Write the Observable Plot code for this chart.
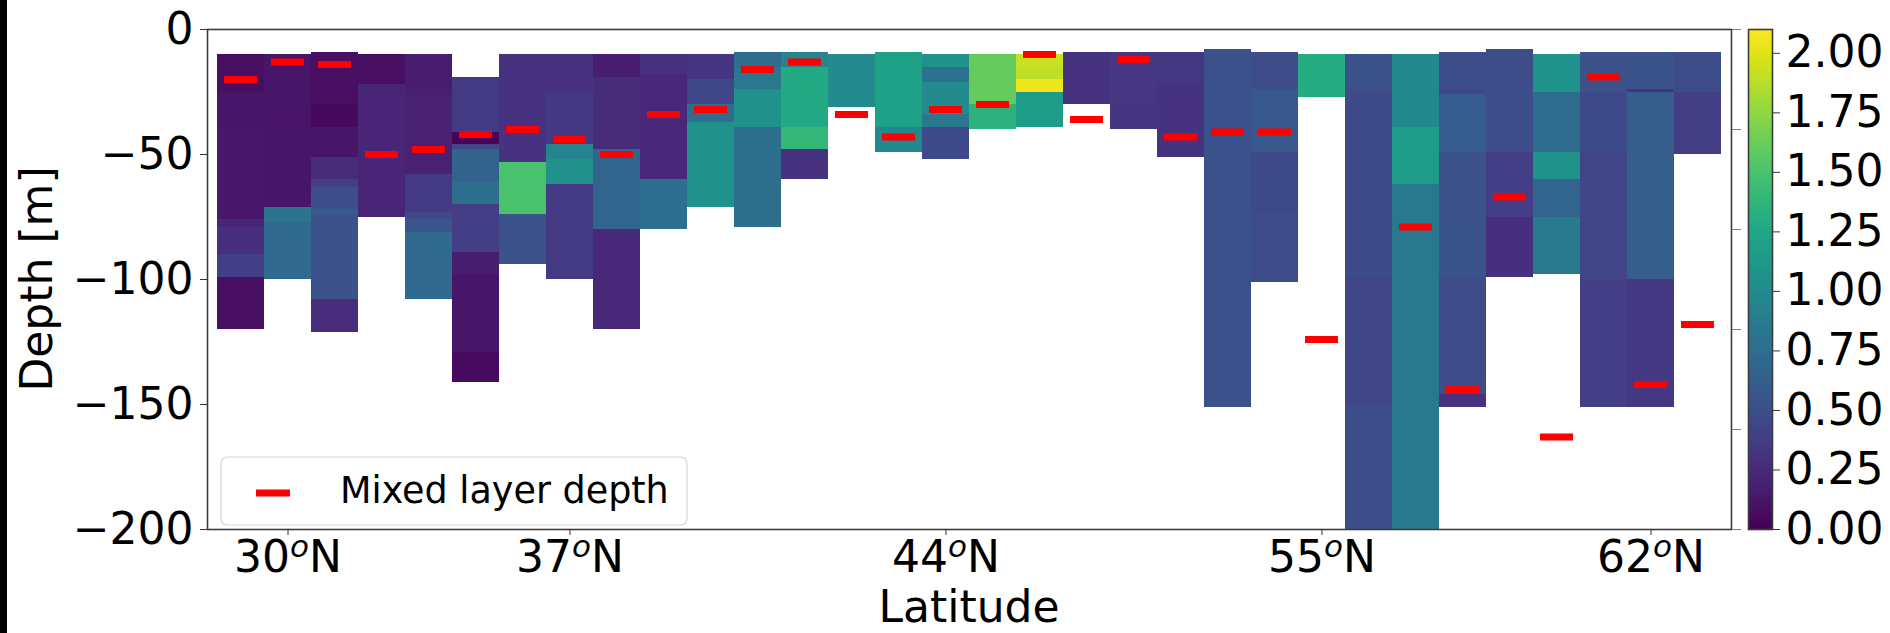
<!DOCTYPE html>
<html><head><meta charset="utf-8">
<script src="https://cdn.jsdelivr.net/npm/d3@7"></script>
<script src="https://cdn.jsdelivr.net/npm/@observablehq/plot@0.6"></script>
<style>
body{margin:0;background:#fff;}
#wrap{position:relative;width:1890px;height:633px;overflow:hidden;font-family:"DejaVu Sans";}
#wrap svg{position:absolute;top:0;}
#strip{position:absolute;left:0;top:0;width:7px;height:633px;background:#000;z-index:5;}
</style></head><body><div id="wrap"><div id="strip"></div></div>
<script>
// ---- data ----
const stations = [0,1,2,3,4,5,6,7,8,9,10,11,12,13,14,15,16,17,18,19,20,21,22,23,24,25,26,27,28,29,30,31];
// layer boundaries (m below surface) per station
const layerEdges = [
  [10,25,40,59,76,79,90,99,120],
  [10,30,40,71,77,100],
  [9,30,39,51,60,63,72,74,108,121],
  [10,22,75],
  [10,24,58,73,76,81,108],
  [19,41,46,48,61,70,89,98,129,141],
  [10,53,74,94],
  [10,25,46,52,62,100],
  [10,19,48,80,120],
  [10,18,60,80],
  [10,20,30,37,71],
  [9,15,24,39,79],
  [9,15,39,48,60],
  [10,31],
  [9,39,49],
  [10,15,21,34,39,52],
  [10,30,40],
  [10,15,20,25,39],
  [9,30],
  [9,30,40],
  [9,21,51],
  [8,151],
  [9,24,49,73,101],
  [10,27],
  [10,24,99,150,200],
  [10,39,62,200],
  [9,24,26,49,73,99,146,151],
  [8,49,75,99],
  [10,25,49,60,75,98],
  [9,25,50,100,151],
  [9,24,25,100,151],
  [9,25,50]
];
// values of each layer
const layerValues = [
  [0.08,0.12,0.13,0.13,0.22,0.28,0.38,0.09],
  [0.12,0.11,0.12,0.80,0.72],
  [0.08,0.05,0.12,0.26,0.38,0.50,0.60,0.53,0.27],
  [0.09,0.22],
  [0.16,0.19,0.36,0.47,0.55,0.72],
  [0.36,0.02,0.45,0.65,0.76,0.38,0.18,0.12,0.06],
  [0.30,1.50,0.53],
  [0.30,0.34,0.95,1.05,0.36],
  [0.18,0.26,0.68,0.23],
  [0.30,0.24,0.75],
  [0.32,0.45,0.74,1.05],
  [0.74,0.84,1.05,0.76],
  [0.95,1.27,1.40,0.30],
  [1.00],
  [1.20,0.98],
  [1.05,0.78,1.00,0.84,0.46],
  [1.60,1.35],
  [1.93,1.89,2.05,1.15],
  [0.31],
  [0.33,0.32],
  [0.34,0.31],
  [0.52],
  [0.48,0.57,0.46,0.48],
  [1.29],
  [0.53,0.47,0.43,0.49],
  [0.98,1.15,0.84],
  [0.50,0.44,0.60,0.53,0.54,0.48,0.30],
  [0.49,0.38,0.29],
  [1.07,0.74,1.07,0.68,0.86],
  [0.53,0.46,0.42,0.38],
  [0.54,0.30,0.62,0.34],
  [0.49,0.39]
];
// mixed layer depth (m) per station
const mldDepth = [20,13,14,50,48,42,40,44,50,34,32,16,13,34,43,32,30,10,36,12,43,41,41,124,null,79,144,67,163,19,142,118];
const tickStations = [1,7,15,23,30];
const tickDegrees = ["30","37","44","55","62"];
const depthTicks = [0,-50,-100,-150,-200];
const rightTicks = [0,-40,-80,-120,-160,-200];
const colorTicks = [0,0.25,0.5,0.75,1.0,1.25,1.5,1.75,2.0];

// ---- build tables ----
const cells = stations.flatMap(s => layerValues[s].map((v, j) => ({
  station: s, top: -layerEdges[s][j], bottom: -layerEdges[s][j + 1], value: v
})));
const mld = stations.filter(s => mldDepth[s] != null).map(s => ({station: s, depth: -mldDepth[s]}));
const degOf = new Map(tickStations.map((s, i) => [s, tickDegrees[i]]));
const fmtInt = d3.format("d");

const wrap = document.getElementById("wrap");

const main = Plot.plot({
  width: 1890, height: 633,
  marginLeft: 207, marginRight: 159, marginTop: 29, marginBottom: 104,
  style: {fontFamily: "DejaVu Sans", fontSize: "44px", color: "#000", background: "transparent", overflow: "visible"},
  x: {type: "band", domain: stations, padding: 0, axis: null},
  y: {domain: [-200, 0], axis: null},
  color: {type: "linear", scheme: "viridis", domain: [0, 2.1]},
  marks: [
    Plot.barY(cells, {x: "station", y1: "top", y2: "bottom", fill: "value", shapeRendering: "crispEdges"}),
    Plot.tickY(mld, {x: "station", y: "depth", stroke: "#ff0000", strokeWidth: 7, insetLeft: 7, insetRight: 7}),
    Plot.frame({stroke: "#3c3c3c", strokeWidth: 1.6}),
    Plot.axisX(tickStations, {anchor: "bottom", tickFormat: d => degOf.get(d) + "oN", tickSize: 6, tickPadding: 5, label: null, stroke: "#333"}),
    Plot.axisY(depthTicks, {anchor: "left", tickFormat: d => fmtInt(d), tickSize: 7, tickPadding: 7, label: null, stroke: "#333"}),
    Plot.axisY(rightTicks, {anchor: "right", tickFormat: () => "", tickSize: 9, label: null, stroke: "#7070ff", strokeWidth: 1})
  ]
});
wrap.appendChild(main);

const svg = d3.select(main);
// x tick labels: degrees with raised italic "o"
svg.selectAll('g[aria-label="x-axis tick label"] text').each(function() {
  const t = d3.select(this);
  const s = t.text();
  const deg = s.slice(0, s.length - 2);
  t.text(null);
  t.append("tspan").text(deg);
  t.append("tspan").attr("font-size", 31).attr("font-style", "italic").attr("dy", -15).text("o");
  t.append("tspan").attr("dy", 15).text("N");
});
// axis titles and legend
svg.append("text").attr("x", 969).attr("y", 622).attr("text-anchor", "middle")
  .attr("font-size", 44).attr("fill", "#000").text("Latitude");
svg.append("text").attr("transform", "translate(52,279) rotate(-90)").attr("text-anchor", "middle")
  .attr("font-size", 44).attr("fill", "#000").text("Depth [m]");
const lg = svg.append("g");
lg.append("rect").attr("x", 221).attr("y", 457).attr("width", 466).attr("height", 68).attr("rx", 6)
  .attr("fill", "#fff").attr("fill-opacity", 0.8).attr("stroke", "#d6d6d6").attr("stroke-width", 1.2);
lg.append("line").attr("x1", 256).attr("x2", 290).attr("y1", 493).attr("y2", 493)
  .attr("stroke", "#ff0000").attr("stroke-width", 7);
lg.append("text").attr("x", 340).attr("y", 503).attr("text-anchor", "start")
  .attr("font-size", 36.5).attr("fill", "#000").text("Mixed layer depth");

// colorbar
const cbar = Plot.plot({
  width: 190, height: 633,
  marginLeft: 48, marginRight: 118, marginTop: 29, marginBottom: 104,
  style: {fontFamily: "DejaVu Sans", fontSize: "44px", color: "#000", background: "transparent", overflow: "visible"},
  x: {domain: [0, 1], axis: null},
  y: {domain: [0, 2.1], axis: null},
  color: {type: "linear", scheme: "viridis", domain: [0, 2.1]},
  marks: [
    Plot.raster({fill: (x, y) => y, x1: 0, x2: 1, y1: 0, y2: 2.1, width: 1, height: 420, imageRendering: "auto"}),
    Plot.frame({stroke: "#3c3c3c", strokeWidth: 1.6}),
    Plot.axisY(colorTicks, {anchor: "right", tickFormat: d3.format(".2f"), tickSize: 7, tickPadding: 6, label: null, stroke: "#333"})
  ]
});
cbar.style.left = "1700px";
wrap.appendChild(cbar);
</script>
</body></html>
